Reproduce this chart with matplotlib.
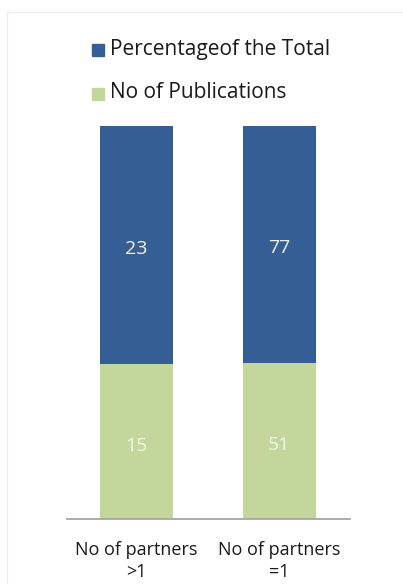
import numpy as np
import matplotlib.pyplot as plt
from matplotlib.patches import Rectangle

plt.rcParams['font.family'] = ['Open Sans', 'DejaVu Sans']

categories = ['No of partners\n>1', 'No of partners\n=1']
publications = [15, 51]
percentage = [23, 77]
series_names = ['Percentageof the Total', 'No of Publications']

blue = '#355E94'
green = '#C3D69B'

pub = np.array(publications, dtype=float)
pct = np.array(percentage, dtype=float)
total = pub + pct
pub_share = pub / total
pct_share = pct / total

fig = plt.figure(figsize=(4.03, 5.84), dpi=100)
ax = fig.add_axes([0.166, 0.111, 0.702, 0.673])

x = np.arange(len(categories))
ax.bar(x, pub_share, width=0.51, color=green, label=series_names[1])
ax.bar(x, pct_share, width=0.51, bottom=pub_share, color=blue, label=series_names[0])

for i in range(len(x)):
    ax.text(x[i], pub_share[i] / 2 - 0.01, str(publications[i]), ha='center',
            va='center', color='#F4F6EC', fontsize=14)
    ax.text(x[i], pub_share[i] + pct_share[i] / 2 - 0.01, str(percentage[i]),
            ha='center', va='center', color='#EEF2F8', fontsize=14)

ax.set_xlim(-0.486, 1.493)
ax.set_ylim(0, 1)
ax.set_xticks(x)
ax.set_xticklabels(categories, fontsize=13, color='#1a1a1a', linespacing=1.25)
ax.tick_params(axis='x', length=0, pad=16)
ax.set_yticks([])
for side in ['top', 'right', 'left']:
    ax.spines[side].set_visible(False)
ax.spines['bottom'].set_color('#A6A6A6')
ax.spines['bottom'].set_linewidth(1.3)

# legend entries, stacked vertically above the plot
fig.patches.append(Rectangle((92 / 403, 1 - 56 / 584), 12 / 403, 12 / 584,
                             transform=fig.transFigure, color=blue))
fig.patches.append(Rectangle((92 / 403, 1 - 100 / 584), 12 / 403, 12 / 584,
                             transform=fig.transFigure, color=green))
fig.text(110 / 403, 1 - 49 / 584, series_names[0], fontsize=15, va='center',
         color='#1a1a1a')
fig.text(110 / 403, 1 - 93 / 584, series_names[1], fontsize=15, va='center',
         color='#1a1a1a')

# faint chart frame
fig.add_artist(plt.Line2D([7 / 403, 1], [1 - 12 / 584, 1 - 12 / 584],
                          transform=fig.transFigure, color='#EDEDED', lw=1))
fig.add_artist(plt.Line2D([7 / 403, 7 / 403], [0, 1 - 12 / 584],
                          transform=fig.transFigure, color='#EDEDED', lw=1))

fig.savefig('out.png', dpi=100)
